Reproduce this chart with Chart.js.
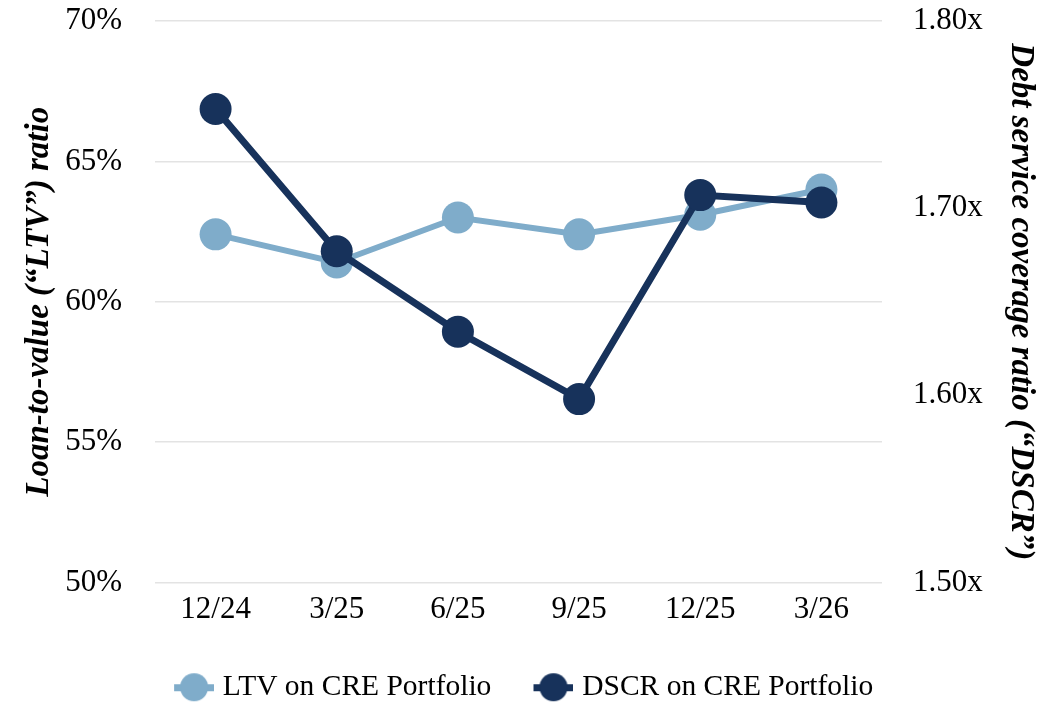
<!DOCTYPE html>
<html>
<head>
<meta charset="utf-8">
<script src="https://cdn.jsdelivr.net/npm/chart.js@4.4.1/dist/chart.umd.min.js"></script>
<style>
  html, body { margin: 0; padding: 0; background: #fff; }
  #wrap { width: 1056px; height: 704px; position: relative; }
</style>
</head>
<body>
<div id="wrap"><canvas id="chart"></canvas></div>
<script>
// values
const periods = ["12/24", "3/25", "6/25", "9/25", "12/25", "3/26"];
const ltvValues = [62.4, 61.4, 63.0, 62.4, 63.1, 64.0];            // %
const dscrValues = [1.753, 1.677, 1.634, 1.598, 1.707, 1.703];     // x
const ltvTicks = [50, 55, 60, 65, 70];
const dscrTicks = [1.5, 1.6, 1.7, 1.8];

const LTV_COLOR = "#7facca";
const DSCR_COLOR = "#17325b";
const SERIF = "'Liberation Serif', 'Times New Roman', serif";

// Legend marker: short line with a dot on it. The canvas is a bit wider than the
// legend box so the marker sits closer to its text.
function legendMarker(color) {
  const c = document.createElement("canvas");
  c.width = 52;
  c.height = 30;
  const g = c.getContext("2d");
  g.fillStyle = color;
  g.fillRect(12, 12, 40, 7);
  g.beginPath();
  g.arc(32, 15, 14, 0, Math.PI * 2);
  g.fill();
  return c;
}

// Vertical axes otherwise reserve room for half a tick label plus tick padding
// above the chart area; the reference plot runs right up to the top.
function fixAxis(width) {
  return (s) => {
    s.width = width;
    s.paddingTop = 0;
    s.paddingBottom = 0;
  };
}

const ctx = document.getElementById("chart").getContext("2d");
new Chart(ctx, {
  type: "line",
  data: {
    labels: periods,
    datasets: [
      {
        label: "LTV on CRE Portfolio",
        data: ltvValues,
        yAxisID: "yLtv",
        borderColor: LTV_COLOR,
        backgroundColor: LTV_COLOR,
        borderWidth: 6,
        pointRadius: 16,
        pointBorderWidth: 0,
        pointBackgroundColor: LTV_COLOR,
        tension: 0,
        order: 2,
      },
      {
        label: "DSCR on CRE Portfolio",
        data: dscrValues,
        yAxisID: "yDscr",
        borderColor: DSCR_COLOR,
        backgroundColor: DSCR_COLOR,
        borderWidth: 7,
        pointRadius: 16,
        pointBorderWidth: 0,
        pointBackgroundColor: DSCR_COLOR,
        tension: 0,
        order: 1, // drawn above the LTV line
      },
    ],
  },
  options: {
    responsive: true,
    maintainAspectRatio: false,
    animation: false,
    layout: { padding: { top: 21, bottom: -8, left: 0, right: 0 } },
    plugins: {
      tooltip: { enabled: false },
      legend: {
        position: "bottom",
        labels: {
          color: "#000",
          font: { family: SERIF, size: 29.5 },
          usePointStyle: true,
          pointStyleWidth: 40,
          boxHeight: 30,
          padding: 14,
          // trailing spaces widen the gap between the items and nudge the row left
          generateLabels: (chart) =>
            chart.data.datasets.map((ds, i) => ({
              text: ds.label + (i === 0 ? "   " : "  "),
              pointStyle: legendMarker(ds.borderColor),
              fillStyle: ds.borderColor,
              strokeStyle: ds.borderColor,
              lineWidth: 0,
              hidden: false,
              datasetIndex: i,
              fontColor: "#000",
            })),
        },
      },
    },
    scales: {
      x: {
        offset: true,
        grid: { display: false, drawTicks: false },
        border: { display: false },
        ticks: { color: "#000", font: { family: SERIF, size: 31 }, padding: 9 },
        afterFit: (s) => { s.height = 76; },
      },
      yLtv: {
        position: "left",
        min: 50,
        max: 70,
        afterBuildTicks: (s) => { s.ticks = ltvTicks.map((v) => ({ value: v })); },
        ticks: {
          color: "#000",
          font: { family: SERIF, size: 31 },
          padding: 33,
          callback: (v) => v + "%",
        },
        grid: { color: "#e3e3e3", lineWidth: 1.5, drawTicks: false },
        border: { display: false },
        title: {
          display: true,
          text: "Loan-to-value (\u201CLTV\u201D) ratio",
          color: "#000",
          font: { family: SERIF, size: 33, style: "italic", weight: "bold" },
          padding: { top: 20, bottom: 0 },
        },
        afterFit: fixAxis(155),
      },
      yDscr: {
        position: "right",
        min: 1.5,
        max: 1.8,
        afterBuildTicks: (s) => { s.ticks = dscrTicks.map((v) => ({ value: v })); },
        ticks: {
          color: "#000",
          font: { family: SERIF, size: 31 },
          padding: 31,
          callback: (v) => v.toFixed(2) + "x",
        },
        grid: { display: false, drawTicks: false },
        border: { display: false },
        title: {
          display: true,
          text: "Debt service coverage ratio (\u201CDSCR\u201D)",
          color: "#000",
          font: { family: SERIF, size: 33, style: "italic", weight: "bold" },
          padding: { top: 16, bottom: 0 },
        },
        afterFit: fixAxis(174),
      },
    },
  },
});
</script>
</body>
</html>
